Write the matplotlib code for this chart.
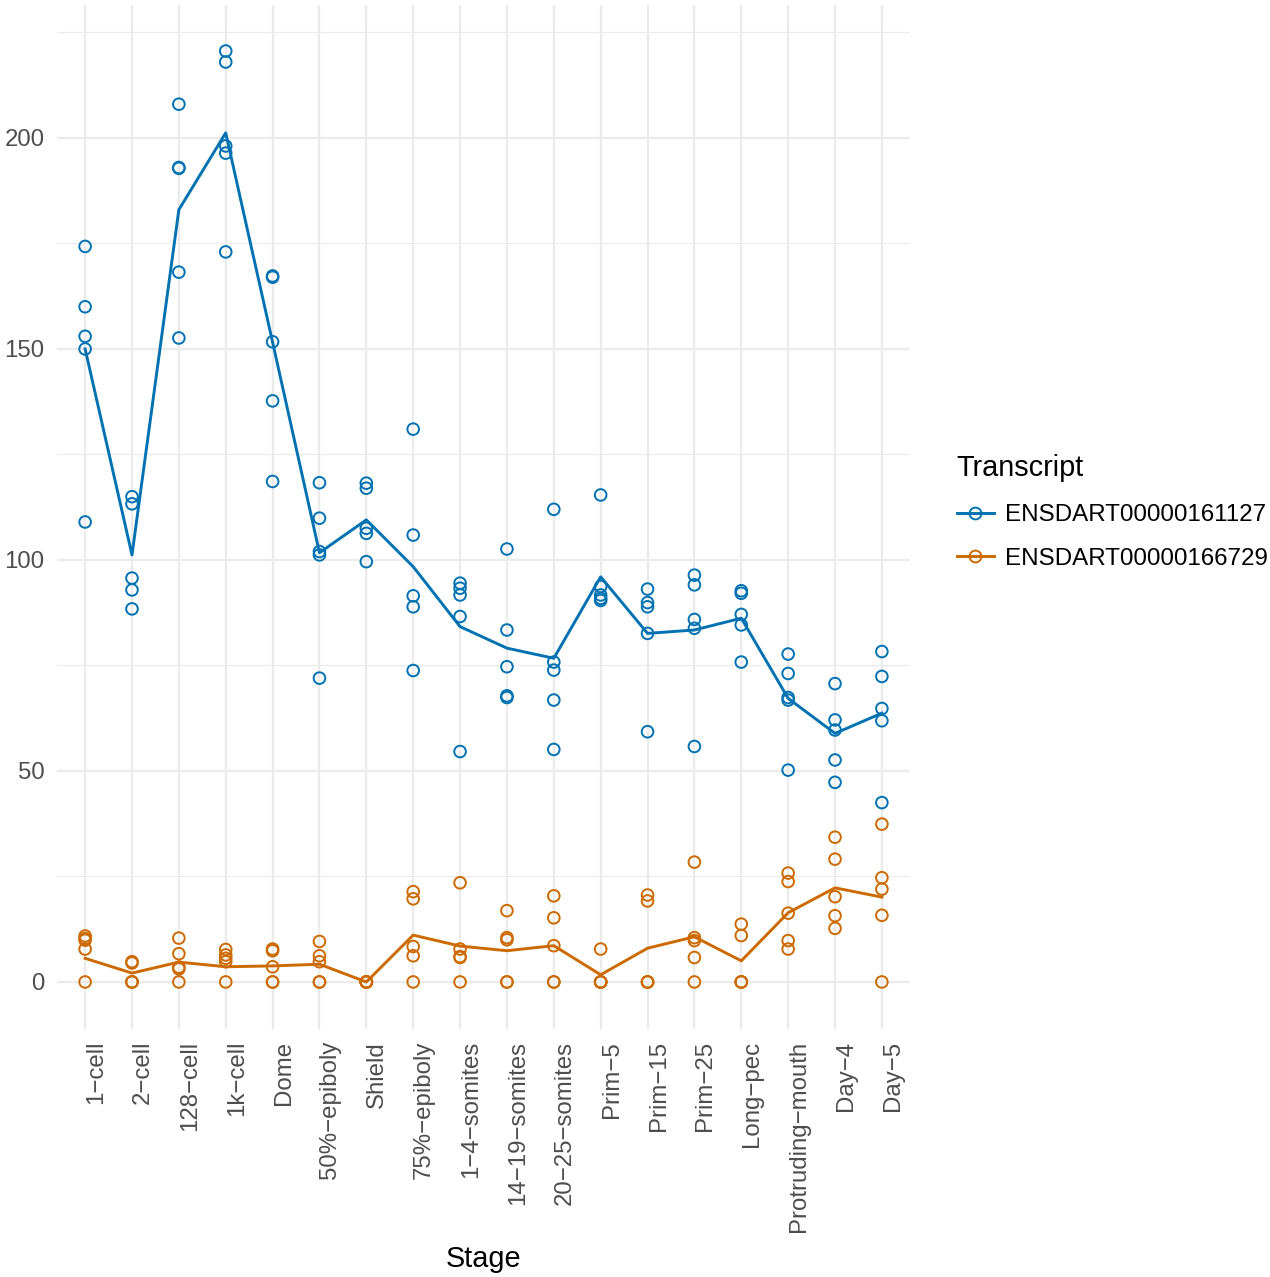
import numpy as np
import matplotlib.pyplot as plt
from matplotlib.lines import Line2D

plt.rcParams['font.family'] = ['Liberation Sans', 'DejaVu Sans']

# -------- DATA ----------
stages = ["1\u2212cell", "2\u2212cell", "128\u2212cell", "1k\u2212cell", "Dome",
          "50%\u2212epiboly", "Shield", "75%\u2212epiboly", "1\u22124\u2212somites",
          "14\u221219\u2212somites", "20\u221225\u2212somites", "Prim\u22125",
          "Prim\u221215", "Prim\u221225", "Long\u2212pec", "Protruding\u2212mouth",
          "Day\u22124", "Day\u22125"]

transcripts = ["ENSDART00000161127", "ENSDART00000166729"]

# replicate values per stage
blue_pts = [
    [174.3, 160.0, 153.0, 150.0, 109.0],
    [115.0, 113.3, 95.7, 92.9, 88.4],
    [208.0, 193.0, 192.8, 168.2, 152.6],
    [220.6, 218.0, 198.1, 196.4, 173.0],
    [167.3, 167.0, 151.7, 137.7, 118.6],
    [118.3, 109.9, 102.0, 101.2, 72.0],
    [118.2, 117.0, 107.5, 106.3, 99.6],
    [131.0, 105.9, 91.5, 88.9, 73.8],
    [94.5, 93.3, 91.7, 86.6, 54.6],
    [102.6, 83.4, 74.7, 67.8, 67.4],
    [112.0, 75.8, 73.9, 66.8, 55.1],
    [115.4, 93.7, 91.7, 90.9, 90.4],
    [93.1, 89.9, 88.9, 82.6, 59.3],
    [96.4, 94.1, 85.9, 83.8, 55.8],
    [92.7, 92.1, 87.1, 84.6, 75.8],
    [77.7, 73.1, 67.4, 66.8, 50.2],
    [70.7, 62.1, 59.7, 52.6, 47.3],
    [78.3, 72.4, 64.8, 61.9, 42.5],
]
orange_pts = [
    [10.9, 10.3, 9.9, 7.8, 0.0],
    [4.8, 4.5, 0.0, 0.0, 0.0],
    [10.4, 6.7, 3.5, 3.1, 0.0],
    [7.7, 6.4, 5.6, 4.8, 0.0],
    [7.8, 7.4, 3.6, 0.0, 0.0],
    [9.6, 6.2, 4.8, 0.0, 0.0],
    [0.0, 0.0, 0.0, 0.0, 0.0],
    [21.4, 19.7, 8.4, 6.2, 0.0],
    [23.5, 7.8, 6.0, 5.8, 0.0],
    [16.9, 10.5, 10.0, 0.0, 0.0],
    [20.4, 15.2, 8.6, 0.0, 0.0],
    [7.8, 0.0, 0.0, 0.0, 0.0],
    [20.6, 19.2, 0.0, 0.0, 0.0],
    [28.4, 10.5, 9.8, 5.8, 0.0],
    [13.7, 11.0, 0.0, 0.0, 0.0],
    [25.8, 23.8, 16.3, 9.8, 7.8],
    [34.3, 29.1, 20.2, 15.7, 12.7],
    [37.4, 24.7, 22.0, 15.8, 0.0],
]

# stage means (the connecting line)
blue_mean = [150.0, 101.2, 183.0, 201.2, 151.6, 101.7, 109.5, 98.4, 84.2,
             79.1, 76.7, 96.0, 82.6, 83.4, 86.2, 67.2, 58.9, 63.7]
orange_mean = [5.6, 2.1, 4.7, 3.6, 3.8, 4.2, 0.0, 11.1, 8.5,
               7.4, 8.6, 1.7, 8.0, 10.7, 5.0, 16.4, 22.3, 20.1]

COLORS = ["#0072B2", "#CC6A00"]
# --------------------------

fig = plt.figure(figsize=(12.7, 12.77), dpi=100)
ax = fig.add_axes([57 / 1270, 1 - 1028.5 / 1277, (910 - 57) / 1270, (1028.5 - 4.6) / 1277])

x = np.arange(1, len(stages) + 1)

for pts, mean, col in zip([blue_pts, orange_pts], [blue_mean, orange_mean], COLORS):
    xs = np.repeat(x, [len(p) for p in pts])
    ys = np.concatenate([np.array(p) for p in pts])
    ax.scatter(xs, ys, s=70, facecolors="none", edgecolors=col, linewidths=1.4, zorder=3)
    ax.plot(x, mean, color=col, lw=2.1, zorder=4)

ax.set_xlim(0.4, len(stages) + 0.6)
ax.set_ylim(-11.03, 231.6)

ax.set_xticks(x)
ax.set_xticklabels(stages, rotation=90, fontsize=17.3, color="#4D4D4D", va="top", ha="left")
ax.set_yticks([0, 50, 100, 150, 200])
ax.set_yticklabels(["0", "50", "100", "150", "200"], fontsize=17.3, color="#4D4D4D")
ax.set_yticks([25, 75, 125, 175, 225], minor=True)
ax.tick_params(axis="both", which="both", length=0)
ax.tick_params(axis="y", pad=9)
ax.tick_params(axis="x", pad=9)

ax.grid(True, which="major", color="#EBEBEB", lw=1.6, zorder=0)
ax.grid(True, which="minor", axis="y", color="#EBEBEB", lw=0.8, zorder=0)
ax.set_axisbelow(True)
for s in ax.spines.values():
    s.set_visible(False)

# x axis title placed under the rotated labels
fig.text(483.5 / 1270, 1 - 1259 / 1277, "Stage", fontsize=20.8, ha="center", va="center")

handles = [Line2D([0], [0], color=c, lw=2.1, marker="o", markersize=8.5,
                  markerfacecolor="none", markeredgewidth=1.4) for c in COLORS]
leg = fig.legend(handles, transcripts, title="Transcript", loc="center left",
                 bbox_to_anchor=(947 / 1270, 1 - 512 / 1277), frameon=False,
                 fontsize=17.4, title_fontsize=20.8, handlelength=1.55,
                 handletextpad=0.45, labelspacing=0.9, borderaxespad=0)
leg._legend_box.align = "left"

fig.savefig("out.png", dpi=100)
